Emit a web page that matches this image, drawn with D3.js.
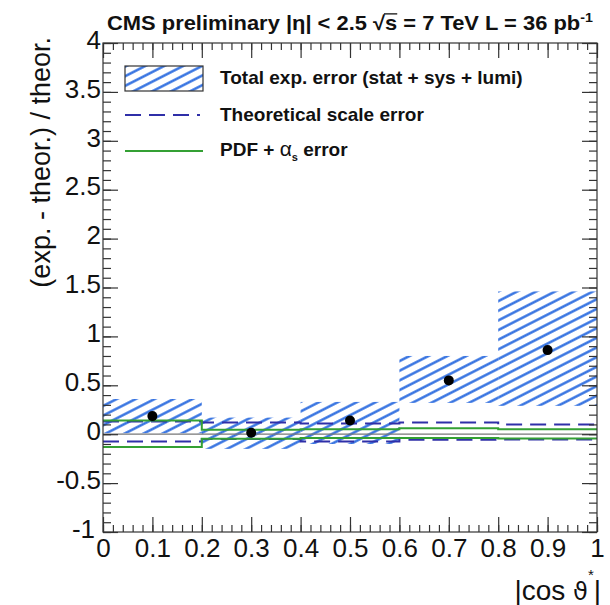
<!DOCTYPE html>
<html>
<head>
<meta charset="utf-8">
<script src="https://cdn.jsdelivr.net/npm/d3@7"></script>
<style>
  body { margin: 0; background: #fff; }
  text { font-family: "Liberation Sans", Arial, sans-serif; }
</style>
</head>
<body>
<div id="vis"></div>
<script>
//////// data ////////////////////////////////////////////////
const binEdges   = [0, 0.2, 0.4, 0.6, 0.8, 1.0];
const binCenters = [0.1, 0.3, 0.5, 0.7, 0.9];
const ratio      = [0.185, 0.015, 0.14, 0.55, 0.86];
const expLow     = [0.01, -0.15, -0.10, 0.32, 0.29];
const expHigh    = [0.36, 0.17, 0.33, 0.80, 1.46];
const scaleUp    = [0.13, 0.12, 0.11, 0.12, 0.10];
const scaleDown  = [-0.075, -0.05, -0.075, -0.058, -0.055];
const pdfUp      = [0.14, 0.045, 0.05, 0.06, 0.05];
const pdfDown    = [-0.13, -0.047, -0.04, -0.04, -0.045];
const xTicks  = [0, 0.1, 0.2, 0.3, 0.4, 0.5, 0.6, 0.7, 0.8, 0.9, 1];
const xLabels = ["0", "0.1", "0.2", "0.3", "0.4", "0.5", "0.6", "0.7", "0.8", "0.9", "1"];
const yTicks  = [-1, -0.5, 0, 0.5, 1, 1.5, 2, 2.5, 3, 3.5, 4];
const yLabels = ["-1", "-0.5", "0", "0.5", "1", "1.5", "2", "2.5", "3", "3.5", "4"];

//////// setting up ///////////////////////////////////////////
const width = 610, height = 605;
const padL = 103, padR = 597, padT = 43, padB = 532;
const hatchColor = "#2f6ee0", scaleColor = "#2f2fa8", pdfColor = "#34a034";

const svg = d3.select("#vis").append("svg")
  .attr("width", width).attr("height", height);

const x = d3.scaleLinear().domain([0, 1]).range([padL, padR]);
const y = d3.scaleLinear().domain([-1, 4]).range([padB, padT]);

const defs = svg.append("defs");
defs.append("pattern")
  .attr("id", "hatch")
  .attr("patternUnits", "userSpaceOnUse")
  .attr("width", 20).attr("height", 8.6)
  .attr("patternTransform", "rotate(-27)")
  .append("line")
  .attr("x1", 0).attr("x2", 20).attr("y1", 4.3).attr("y2", 4.3)
  .attr("stroke", hatchColor).attr("stroke-width", 2.4);
defs.append("clipPath").attr("id", "plotClip")
  .append("rect").attr("x", padL).attr("y", padT)
  .attr("width", padR - padL).attr("height", padB - padT);

const plot = svg.append("g").attr("clip-path", "url(#plotClip)");

//////// exp. error boxes ///////////////////////////////////////
plot.append("g").selectAll("rect")
  .data(binCenters)
  .join("rect")
  .attr("x", (d, i) => x(binEdges[i]))
  .attr("width", (d, i) => x(binEdges[i + 1]) - x(binEdges[i]))
  .attr("y", (d, i) => y(expHigh[i]))
  .attr("height", (d, i) => y(expLow[i]) - y(expHigh[i]))
  .attr("fill", "url(#hatch)");

// zero line
plot.append("line")
  .attr("x1", padL).attr("x2", padR)
  .attr("y1", y(0)).attr("y2", y(0))
  .attr("stroke", "#777").attr("stroke-width", 1.2);

//////// step lines ///////////////////////////////////////////
const step = d3.line().x(d => x(d[0])).y(d => y(d[1])).curve(d3.curveStepAfter);
function stepPoints(vals) {
  const pts = vals.map((v, i) => [binEdges[i], v]);
  pts.push([binEdges[binEdges.length - 1], vals[vals.length - 1]]);
  return pts;
}
[scaleUp, scaleDown].forEach(vals => {
  plot.append("path").attr("d", step(stepPoints(vals)))
    .attr("fill", "none").attr("stroke", scaleColor)
    .attr("stroke-width", 2).attr("stroke-dasharray", "16,8");
});
[pdfUp, pdfDown].forEach(vals => {
  plot.append("path").attr("d", step(stepPoints(vals)))
    .attr("fill", "none").attr("stroke", pdfColor).attr("stroke-width", 2);
});

// data points
plot.append("g").selectAll("circle")
  .data(binCenters)
  .join("circle")
  .attr("cx", d => x(d))
  .attr("cy", (d, i) => y(ratio[i]))
  .attr("r", 5)
  .attr("fill", "#000");

//////// axes ///////////////////////////////////////////////
const minorX = d3.range(0, 51).map(i => i / 50);
const minorY = d3.range(0, 51).map(i => -1 + i / 10);
function styleAxis(g) {
  g.select(".domain").remove();
  g.selectAll("line").attr("stroke", "#333").attr("stroke-width", 1.2);
  g.selectAll("text").attr("fill", "#111").attr("font-size", 26)
    .attr("font-family", "'Liberation Sans', Arial, sans-serif");
}
// bottom
svg.append("g").attr("transform", `translate(0,${padB})`)
  .call(d3.axisBottom(x).tickValues(minorX).tickSize(-7).tickFormat("")).call(styleAxis);
svg.append("g").attr("transform", `translate(0,${padB})`)
  .call(d3.axisBottom(x).tickValues(xTicks).tickSize(-15).tickPadding(7)
    .tickFormat((d, i) => xLabels[i])).call(styleAxis);
// top
svg.append("g").attr("transform", `translate(0,${padT})`)
  .call(d3.axisTop(x).tickValues(minorX).tickSize(-7).tickFormat("")).call(styleAxis);
svg.append("g").attr("transform", `translate(0,${padT})`)
  .call(d3.axisTop(x).tickValues(xTicks).tickSize(-15).tickFormat("")).call(styleAxis);
// left
svg.append("g").attr("transform", `translate(${padL},0)`)
  .call(d3.axisLeft(y).tickValues(minorY).tickSize(-8).tickFormat("")).call(styleAxis);
svg.append("g").attr("transform", `translate(${padL},0)`)
  .call(d3.axisLeft(y).tickValues(yTicks).tickSize(-15).tickPadding(2)
    .tickFormat((d, i) => yLabels[i])).call(styleAxis)
  .selectAll("text").attr("dy", "0.2em")
  .attr("x", d => d === -1 ? -8 : -2);  // keep "-1" clear of the x-axis "0"
// right
svg.append("g").attr("transform", `translate(${padR},0)`)
  .call(d3.axisRight(y).tickValues(minorY).tickSize(-8).tickFormat("")).call(styleAxis);
svg.append("g").attr("transform", `translate(${padR},0)`)
  .call(d3.axisRight(y).tickValues(yTicks).tickSize(-15).tickFormat("")).call(styleAxis);

// frame
svg.append("rect")
  .attr("x", padL).attr("y", padT)
  .attr("width", padR - padL).attr("height", padB - padT)
  .attr("fill", "none").attr("stroke", "#333").attr("stroke-width", 1.2);

//////// titles ///////////////////////////////////////////////
svg.append("text")
  .attr("transform", `translate(50,37) rotate(-90)`)
  .attr("text-anchor", "end")
  .attr("font-size", 27).attr("fill", "#111")
  .text("(exp. - theor.) / theor.");

const xt = svg.append("text")
  .attr("x", 601).attr("y", 600)
  .attr("text-anchor", "end")
  .attr("font-size", 28).attr("fill", "#111");
xt.append("tspan").text("|cos ");
xt.append("tspan").attr("font-family", "'DejaVu Sans', sans-serif").attr("font-size", 24).text("\u03D1");
xt.append("tspan").attr("dy", -20).attr("font-size", 15).text("*");
xt.append("tspan").attr("dy", 20).text("|");

// header
const head = svg.append("g");
const ht = head.append("text")
  .attr("x", 0).attr("y", 30)
  .attr("font-size", 20).attr("font-weight", "bold").attr("fill", "#111");
ht.append("tspan").text("CMS preliminary |\u03B7| < 2.5 \u221As = 7 TeV L = 36 pb");
ht.append("tspan").attr("dy", -8).attr("font-size", 13).text("-1");
const hw = ht.node().getBBox().width;
head.attr("transform", `translate(107,0) scale(${486 / hw},1)`);
// overline over the s of sqrt(s)
const sIdx = "CMS preliminary |\u03B7| < 2.5 \u221A".length;
const rootBox = ht.node().getExtentOfChar(sIdx - 1);
const sBox = ht.node().getExtentOfChar(sIdx);
head.append("line")
  .attr("x1", rootBox.x + rootBox.width - 1).attr("x2", sBox.x + sBox.width)
  .attr("y1", rootBox.y + 2).attr("y2", rootBox.y + 2)
  .attr("stroke", "#111").attr("stroke-width", 1.3);

//////// legend ///////////////////////////////////////////////
const legend = svg.append("g");
legend.append("rect")
  .attr("x", 125).attr("y", 66).attr("width", 78).attr("height", 25)
  .attr("fill", "url(#hatch)").attr("stroke", "#333").attr("stroke-width", 1.2);
legend.append("line")
  .attr("x1", 125).attr("x2", 200).attr("y1", 115).attr("y2", 115)
  .attr("stroke", scaleColor).attr("stroke-width", 2).attr("stroke-dasharray", "16,8");
legend.append("line")
  .attr("x1", 125).attr("x2", 203).attr("y1", 151).attr("y2", 151)
  .attr("stroke", pdfColor).attr("stroke-width", 2);

const legText = (yy) => legend.append("text")
  .attr("x", 220).attr("y", yy)
  .attr("font-size", 19).attr("font-weight", "bold").attr("fill", "#111");
legText(84).text("Total exp. error (stat + sys + lumi)");
legText(121).text("Theoretical scale error");
const pdfT = legText(156);
pdfT.append("tspan").text("PDF + ");
pdfT.append("tspan").attr("font-weight", "normal").attr("font-size", 21).text("\u03B1");
pdfT.append("tspan").attr("dy", 5).attr("font-size", 11).text("s");
pdfT.append("tspan").attr("dy", -5).text(" error");
</script>
</body>
</html>
